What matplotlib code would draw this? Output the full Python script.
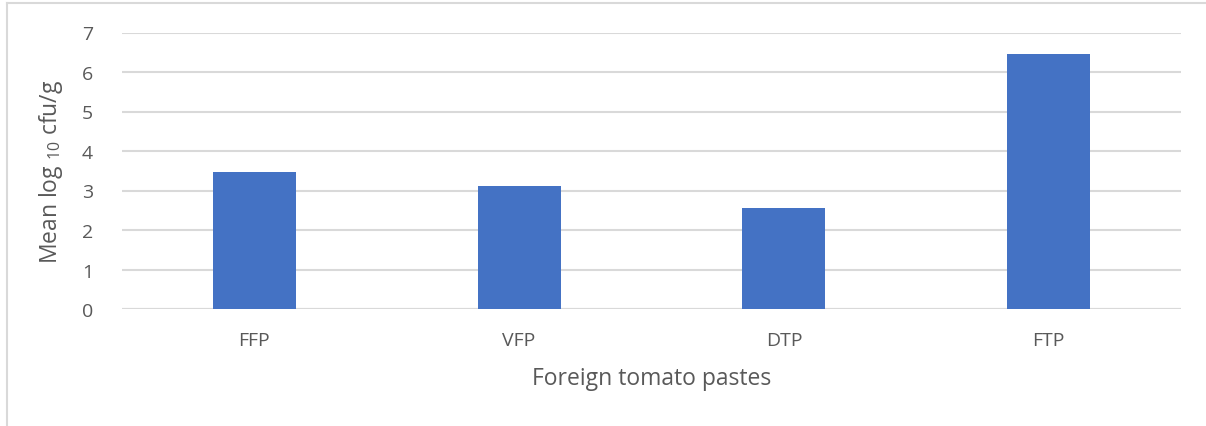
import matplotlib.pyplot as plt
from matplotlib.lines import Line2D
import numpy as np

# Data
pastes = ["FFP", "VFP", "DTP", "FTP"]
mean_log = [3.46, 3.11, 2.55, 6.45]
yticks = [0, 1, 2, 3, 4, 5, 6, 7]

plt.rcParams['font.family'] = ['Open Sans', 'DejaVu Sans']
plt.rcParams['mathtext.default'] = 'regular'
txt = "#595959"

fig = plt.figure(figsize=(12.06, 4.27), dpi=100)
ax = fig.add_axes([122/1206, 1-310/427, (1181-122)/1206, (310-33.5)/427])

x = np.arange(len(pastes))
ax.bar(x, mean_log, width=0.313, color="#4472C4", zorder=3)

ax.set_xlim(-0.5, len(pastes)-0.5)
ax.set_ylim(0, 7)
ax.set_yticks(yticks)
ax.set_xticks(x)
ax.set_xticklabels(pastes)
ax.yaxis.grid(True, color="#d9d9d9", linewidth=1.5, zorder=0)
ax.axhline(0, color="#d9d9d9", linewidth=1.5, zorder=2)
for s in ax.spines.values():
    s.set_visible(False)
ax.tick_params(length=0, labelsize=14, colors=txt)
ax.tick_params(axis='x', pad=16)
ax.tick_params(axis='y', pad=21)

ax.set_xlabel("Foreign tomato pastes", fontsize=16.5, color=txt, labelpad=12)
ax.set_ylabel(r"Mean log $_{10}$ cfu/g", fontsize=16.5, color=txt, labelpad=12)

# outer chart border (left and top only)
fig.add_artist(Line2D([7/1206, 7/1206], [0, 1-4/427], color="#d9d9d9", linewidth=1.5))
fig.add_artist(Line2D([7/1206, 1], [1-4/427, 1-4/427], color="#d9d9d9", linewidth=1.5))

fig.savefig("out.png", dpi=100)
